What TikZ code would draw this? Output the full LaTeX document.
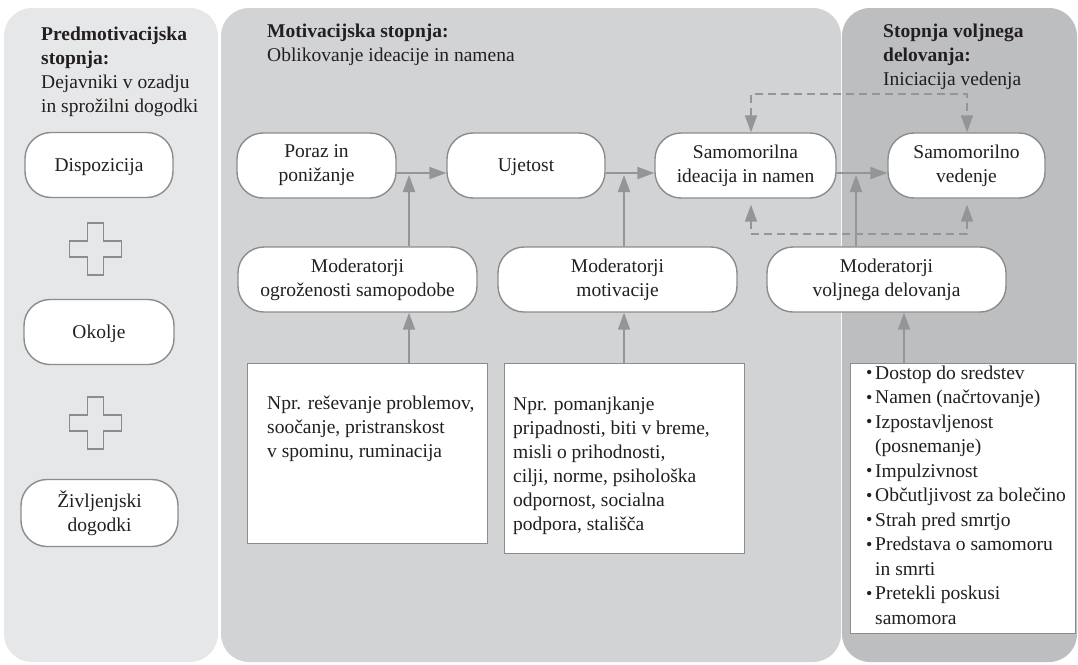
\documentclass[tikz,border=0pt]{standalone}
\usepackage{fontspec}
\setmainfont{Liberation Serif}
\usetikzlibrary{arrows.meta}
\definecolor{panelA}{HTML}{E6E7E8}
\definecolor{panelB}{HTML}{D1D3D4}
\definecolor{panelC}{HTML}{BCBEC0}
\definecolor{edgec}{HTML}{8A8C8E}
\definecolor{arrowc}{HTML}{939598}
\definecolor{ink}{HTML}{231F20}
\newcommand{\bul}{\makebox[9pt][l]{\raisebox{0.5pt}{\fontsize{18}{18}\selectfont\textbullet}}}
\newcommand{\bulind}{\hspace*{9pt}}
\begin{document}
\begin{tikzpicture}[x=1pt,y=-1pt,
  every node/.style={font=\fontsize{19.5}{24}\selectfont, text=ink},
  rbox/.style={draw=edgec, line width=1.4pt, fill=white, rounded corners=26pt, align=center, inner sep=0pt, minimum height=65pt},
  onel/.style={text depth=0pt},
  tbox/.style={draw=edgec, line width=1.4pt, fill=white, inner sep=0pt, anchor=north west},
  txt/.style={align=left, inner sep=0pt, anchor=base west},
  arr/.style={draw=arrowc, line width=1.8pt, -{Triangle[length=17pt,width=12pt]}},
  darr/.style={draw=arrowc, line width=1.8pt, dash pattern=on 8pt off 5pt, {Triangle[length=17pt,width=12pt]}-{Triangle[length=17pt,width=12pt]}},
  crossline/.style={draw=edgec, line width=1.4pt},
]
\useasboundingbox (0,0) rectangle (1078,664);
% panels
\fill[panelA, rounded corners=28pt] (4,8) rectangle (218,662);
\fill[panelB, rounded corners=28pt] (221,8) rectangle (841,662);
\fill[panelC, rounded corners=28pt] (842,8) rectangle (1077,662);
% titles (anchor = baseline of the last line)
\node[txt] (t1) at (41,112) {\textbf{Predmotivacijska}\\\textbf{stopnja:}\\Dejavniki v ozadju\\in sprožilni dogodki};
\node[txt] (t2) at (267,61) {\textbf{Motivacijska stopnja:}\\Oblikovanje ideacije in namena};
\node[txt] (t3) at (883,85) {\textbf{Stopnja voljnega}\\\textbf{delovanja:}\\Iniciacija vedenja};
% left column
\node[rbox, onel, minimum width=148pt] (disp) at (99,165) {Dispozicija};
\node[rbox, onel, minimum width=150pt] (okol) at (99,332) {Okolje};
\node[rbox, minimum width=157pt, minimum height=67pt] (zivl) at (99.5,513) {Življenjski\\dogodki};
\draw[crossline] (95.5,249) ++(-8,-26) -- ++(16,0) -- ++(0,18) -- ++(18,0) -- ++(0,16) -- ++(-18,0) -- ++(0,18) -- ++(-16,0) -- ++(0,-18) -- ++(-18,0) -- ++(0,-16) -- ++(18,0) -- cycle;
\draw[crossline] (95.5,423) ++(-8,-26) -- ++(16,0) -- ++(0,18) -- ++(18,0) -- ++(0,16) -- ++(-18,0) -- ++(0,18) -- ++(-16,0) -- ++(0,-18) -- ++(-18,0) -- ++(0,-16) -- ++(18,0) -- cycle;
% main row
\node[rbox, minimum width=159pt] (poraz) at (316.5,165.5) {Poraz in\\ponižanje};
\node[rbox, onel, minimum width=158pt] (ujet) at (526,165.5) {Ujetost};
\node[rbox, minimum width=181pt] (ideac) at (745.5,165.5) {Samomorilna\\ideacija in namen};
\node[rbox, minimum width=157pt] (vede) at (966.5,165.5) {Samomorilno\\vedenje};
% moderators
\node[rbox, minimum width=239pt] (mod1) at (357.5,279.5) {Moderatorji\\ogroženosti samopodobe};
\node[rbox, minimum width=239pt] (mod2) at (617.5,279.5) {Moderatorji\\motivacije};
\node[rbox, minimum width=239pt] (mod3) at (886.5,279.5) {Moderatorji\\voljnega delovanja};
% text boxes
\node[tbox, minimum width=240pt, minimum height=180pt] (tb1) at (247,363) {};
\node[txt] (tx1) at (267,457) {Npr. reševanje problemov,\\soočanje, pristranskost\\v spominu, ruminacija};
\node[tbox, minimum width=240pt, minimum height=190pt] (tb2) at (504,363) {};
\node[txt] (tx2) at (513,530) {Npr. pomanjkanje\\pripadnosti, biti v breme,\\misli o prihodnosti,\\cilji, norme, psihološka\\odpornost, socialna\\podpora, stališča};
\node[tbox, minimum width=225pt, minimum height=270pt] (tb3) at (850,363) {};
\node[txt, font=\fontsize{19.5}{24.5}\selectfont] (tx3) at (866,624) {\bul Dostop do sredstev\\\bul Namen (načrtovanje)\\\bul Izpostavljenost\\\bulind (posnemanje)\\\bul Impulzivnost\\\bul Občutljivost za bolečino\\\bul Strah pred smrtjo\\\bul Predstava o samomoru\\\bulind in smrti\\\bul Pretekli poskusi\\\bulind samomora};
% helper coordinates
\coordinate (h) at (0,173);
\coordinate (v1) at (409,175);
\coordinate (v2) at (624,175);
\coordinate (v3) at (856,175);
\coordinate (b3) at (904,0);
\coordinate (dt) at (0,94);
\coordinate (db) at (0,234);
\coordinate (dL) at (751,0);
\coordinate (dR) at (967,0);
% dashed feedback
\draw[darr] (ideac.north -| dL) -- (dL |- dt) -- (dR |- dt) -- (vede.north -| dR);
\draw[darr, shorten <=6pt, shorten >=6pt] (ideac.south -| dL) -- (dL |- db) -- (dR |- db) -- (vede.south -| dR);
% horizontal arrows
\draw[arr] (poraz.east |- h) -- (ujet.west |- h);
\draw[arr] (ujet.east |- h) -- (ideac.west |- h);
\draw[arr] (ideac.east |- h) -- (vede.west |- h);
% moderator arrows
\draw[arr] (mod1.north -| v1) -- (v1);
\draw[arr] (mod2.north -| v2) -- (v2);
\draw[arr] (mod3.north -| v3) -- (v3);
\draw[arr] (tb1.north -| v1) -- (mod1.south -| v1);
\draw[arr] (tb2.north -| v2) -- (mod2.south -| v2);
\draw[arr] (tb3.north -| b3) -- (mod3.south -| b3);
\end{tikzpicture}
\end{document}
